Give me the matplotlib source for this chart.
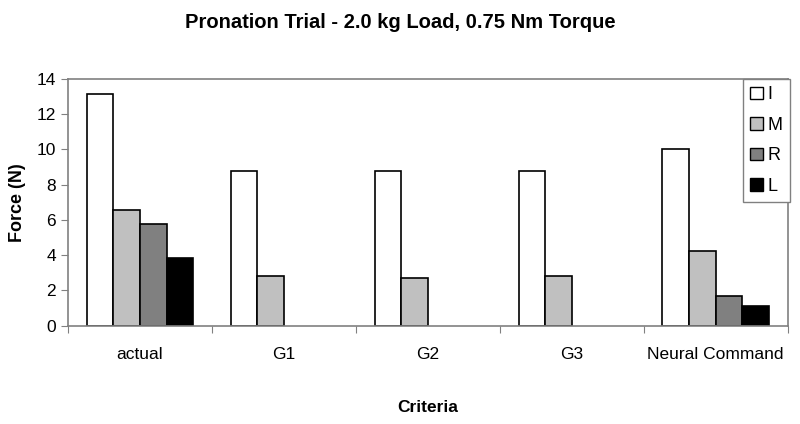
import numpy as np
import matplotlib.pyplot as plt
from matplotlib.patches import Patch

plt.rcParams['font.family'] = ['Liberation Sans', 'DejaVu Sans']

# Datos
categorias = ['actual', 'G1', 'G2', 'G3', 'Neural Command']
series = ['I', 'M', 'R', 'L']
valores_I = [13.13, 8.78, 8.78, 8.78, 10.05]
valores_M = [6.57, 2.82, 2.72, 2.82, 4.26]
valores_R = [5.79, 0, 0, 0, 1.69]
valores_L = [3.86, 0, 0, 0, 1.14]
colores = ['white', '#c0c0c0', '#808080', 'black']

fig = plt.figure(figsize=(8, 4.24), dpi=100)
ax = fig.add_axes([0.085, 0.2318, 0.8996, 0.5819])

x = np.arange(len(categorias))
ancho = 0.185
datos = [valores_I, valores_M, valores_R, valores_L]
for i, (vals, color) in enumerate(zip(datos, colores)):
    pos = x + (i - 1.5) * ancho
    for p, v in zip(pos, vals):
        if v > 0:
            ax.bar(p, v, width=ancho, color=color, edgecolor='black', linewidth=1.2)

ax.set_xlim(-0.5, len(categorias) - 0.5)
ax.set_ylim(0, 14)
ax.set_yticks(range(0, 15, 2))
ax.set_xticks(np.arange(-0.5, len(categorias)), labels=[''] * (len(categorias) + 1))
ax.set_xticks(x, labels=categorias, minor=True)
ax.tick_params(axis='x', which='minor', length=0, pad=15, labelsize=12.5)
ax.tick_params(axis='x', which='major', length=5, color='#808080', direction='out')
ax.tick_params(axis='y', length=5, color='#808080', labelsize=12.5)

for lado in ['left', 'bottom', 'top', 'right']:
    ax.spines[lado].set_color('#808080')
    ax.spines[lado].set_linewidth(1.2)

ax.set_ylabel('Force (N)', fontsize=13, fontweight='bold', labelpad=8)
ax.set_xlabel('Criteria', fontsize=12.5, fontweight='bold', labelpad=28)
fig.suptitle('Pronation Trial - 2.0 kg Load, 0.75 Nm Torque', fontsize=14.5,
             fontweight='bold', y=0.97)

handles = [Patch(facecolor=c, edgecolor='black', label=s) for s, c in zip(series, colores)]
leg = ax.legend(handles=handles, loc='upper right', bbox_to_anchor=(1.003, 1.0),
                fontsize=13, fancybox=False, framealpha=1, edgecolor='#808080',
                handlelength=0.7, handleheight=0.7, handletextpad=0.25,
                borderpad=0.4, labelspacing=0.75, borderaxespad=0)
leg.get_frame().set_linewidth(1.0)

fig.savefig('out.png', dpi=100, facecolor='white')
